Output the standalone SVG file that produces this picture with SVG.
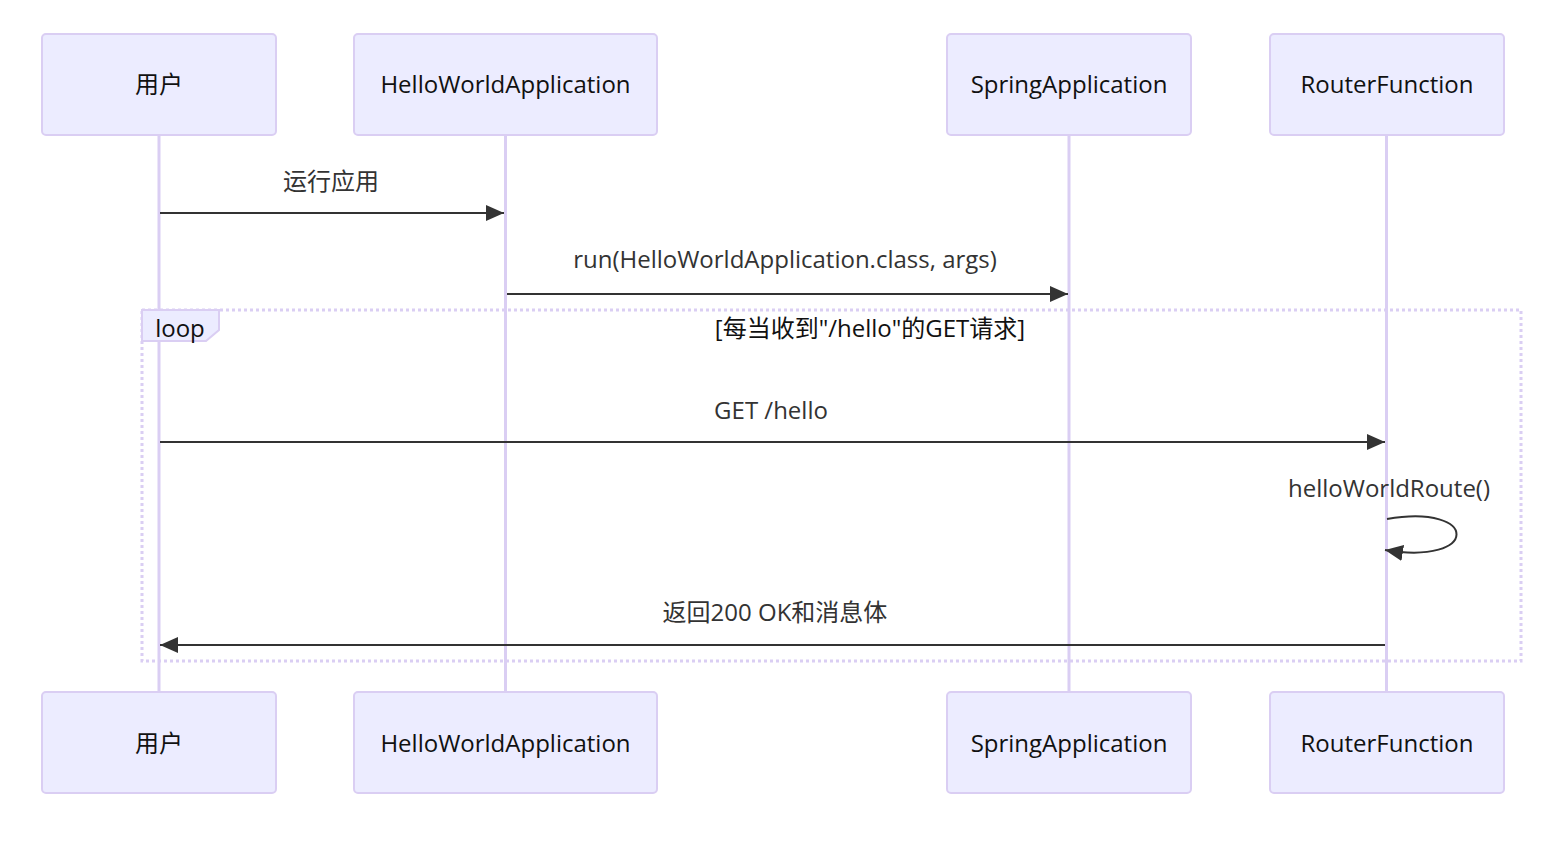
<svg xmlns="http://www.w3.org/2000/svg" width="1556" height="844" viewBox="0 0 1556 844">
<style>
.actor{fill:#ECECFF;stroke:#DACEF3;stroke-width:2}
.atext{font-family:"Open Sans","Noto Sans CJK SC",sans-serif;font-size:24px;fill:#111;text-anchor:middle;dominant-baseline:central}
.life{stroke:#DACEF3;stroke-width:3}
.msg{stroke:#333;stroke-width:2;fill:none}
.mtext{font-family:"Open Sans","Noto Sans CJK SC",sans-serif;font-size:24px;fill:#333;text-anchor:middle;dominant-baseline:central}
.loop{fill:none;stroke:#DACEF3;stroke-width:3;stroke-dasharray:3,3}
.lbox{fill:#ECECFF;stroke:#DACEF3;stroke-width:2}
.ltext{font-family:"Open Sans","Noto Sans CJK SC",sans-serif;font-size:24px;fill:#111;text-anchor:middle;dominant-baseline:central}
</style>
<defs>
<marker id="arrow" markerUnits="userSpaceOnUse" markerWidth="20" markerHeight="16" refX="18" refY="8" orient="auto">
<path d="M0,0 L18,8 L0,16 z" fill="#333"/>
</marker>
</defs>
<rect width="1556" height="844" fill="#fff"/>
<g id="lifelines">
<line class="life" x1="159" y1="135" x2="159" y2="692"/>
<line class="life" x1="505.5" y1="135" x2="505.5" y2="692"/>
<line class="life" x1="1069" y1="135" x2="1069" y2="692"/>
<line class="life" x1="1386.5" y1="135" x2="1386.5" y2="692"/>
</g>
<g id="actor-user-top"><rect class="actor" x="42" y="34" width="234" height="101" rx="4"/><text class="atext" x="159" y="83">用户</text></g>
<g id="actor-hello-top"><rect class="actor" x="354" y="34" width="303" height="101" rx="4"/><text class="atext" x="505.5" y="83">HelloWorldApplication</text></g>
<g id="actor-spring-top"><rect class="actor" x="947" y="34" width="244" height="101" rx="4"/><text class="atext" x="1069" y="83">SpringApplication</text></g>
<g id="actor-router-top"><rect class="actor" x="1270" y="34" width="234" height="101" rx="4"/><text class="atext" x="1387" y="83">RouterFunction</text></g>
<g id="actor-user-bottom"><rect class="actor" x="42" y="692" width="234" height="101" rx="4"/><text class="atext" x="159" y="742">用户</text></g>
<g id="actor-hello-bottom"><rect class="actor" x="354" y="692" width="303" height="101" rx="4"/><text class="atext" x="505.5" y="742">HelloWorldApplication</text></g>
<g id="actor-spring-bottom"><rect class="actor" x="947" y="692" width="244" height="101" rx="4"/><text class="atext" x="1069" y="742">SpringApplication</text></g>
<g id="actor-router-bottom"><rect class="actor" x="1270" y="692" width="234" height="101" rx="4"/><text class="atext" x="1387" y="742">RouterFunction</text></g>
<g id="loop">
<rect class="loop" x="142" y="310" width="1379" height="351"/>
<polygon class="lbox" points="142,310 219,310 219,330 206,341 142,341"/>
<text class="ltext" x="180" y="327">loop</text>
<text class="ltext" x="870" y="327">[每当收到"/hello"的GET请求]</text>
</g>
<g id="connectors">
<line class="msg" x1="160" y1="213" x2="504" y2="213" marker-end="url(#arrow)"/>
<text class="mtext" x="331" y="180">运行应用</text>
<line class="msg" x1="507" y1="294" x2="1068" y2="294" marker-end="url(#arrow)"/>
<text class="mtext" x="785" y="258">run(HelloWorldApplication.class, args)</text>
<line class="msg" x1="160" y1="442" x2="1385" y2="442" marker-end="url(#arrow)"/>
<text class="mtext" x="771" y="409">GET /hello</text>
<path class="msg" d="M1387,519 C1480,503 1480,566 1385,550" marker-end="url(#arrow)"/>
<text class="mtext" x="1389" y="487">helloWorldRoute()</text>
<line class="msg" x1="1385" y1="645" x2="160" y2="645" marker-end="url(#arrow)"/>
<text class="mtext" x="775" y="611">返回200 OK和消息体</text>
</g>
</svg>
